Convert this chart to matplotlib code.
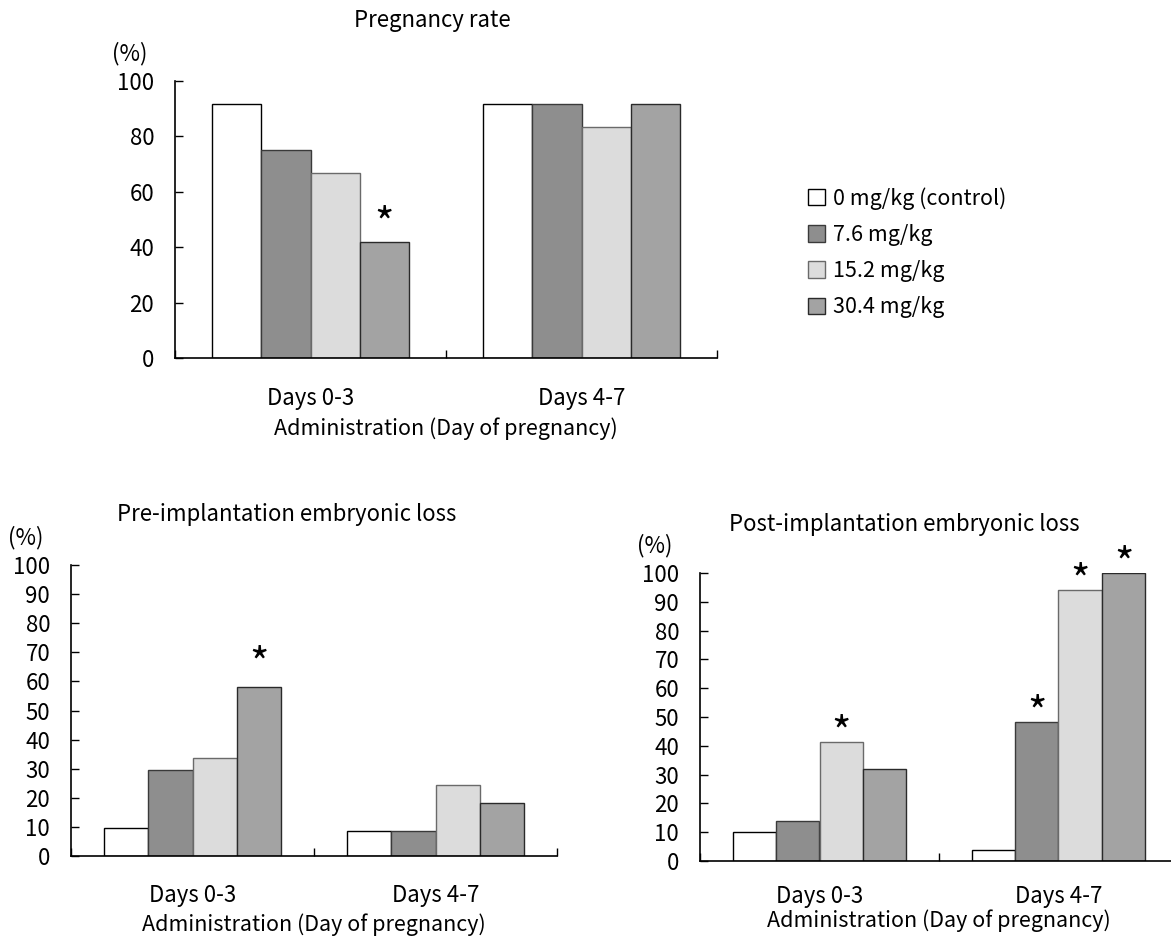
import matplotlib
matplotlib.use('Agg')
import matplotlib.pyplot as plt
from matplotlib.patches import Patch
import numpy as np

plt.rcParams['font.family'] = ['Noto Sans CJK JP', 'DejaVu Sans']

periods = ['Days 0-3', 'Days 4-7']
doses = ['0 mg/kg (control)', '7.6 mg/kg', '15.2 mg/kg', '30.4 mg/kg']

# one row per dose: [Days 0-3, Days 4-7]
pregnancy_rate = [[91.7, 91.7], [75.0, 91.7], [66.7, 83.3], [41.7, 91.7]]
pre_loss = [[9.5, 8.7], [29.6, 8.7], [33.8, 24.4], [58.1, 18.1]]
post_loss = [[10.0, 3.9], [13.9, 48.1], [41.2, 94.1], [32.1, 100.0]]

# significant differences as (dose index, period index)
pregnancy_stars = [(3, 0)]
pre_stars = [(3, 0)]
post_stars = [(2, 0), (1, 1), (2, 1), (3, 1)]

faces = ['white', '#8e8e8e', '#dcdcdc', '#a3a3a3']
edges = ['black', '#3a3a3a', '#6a6a6a', '#2a2a2a']

W, H = 1171, 939
fig = plt.figure(figsize=(W / 100, H / 100), dpi=100)


def px_axes(left, top, right, bottom):
    return fig.add_axes([left / W, 1 - bottom / H, (right - left) / W, (bottom - top) / H])


def draw_panel(ax, values, stars, title, title_x, title_gap, yticks, star_gap,
               tick_pad=21, label_pad=5.5):
    x = np.arange(len(periods)) + 0.5
    w = 0.182
    for i, vals in enumerate(values):
        ax.bar(x + (i - 1.5) * w, vals, w, color=faces[i], edgecolor=edges[i], linewidth=1)
    for i, j in stars:
        ax.annotate('*', (x[j] + (i - 1.5) * w, values[i][j]), xytext=(0, star_gap),
                    textcoords='offset pixels', ha='center', va='center', fontsize=30)
    ax.set_xlim(0, 2)
    ax.set_ylim(0, 100)
    ax.set_yticks(yticks)
    ax.set_xticks([0, 1, 2])
    ax.set_xticklabels([])
    ax.set_xticks(x, periods, minor=True)
    ax.tick_params(axis='x', which='major', direction='in', length=6, width=1)
    ax.tick_params(axis='x', which='minor', length=0, pad=tick_pad, labelsize=16)
    ax.tick_params(axis='y', direction='in', length=6, width=1, pad=15, labelsize=16)
    ax.set_xlabel('Administration (Day of pregnancy)', fontsize=15.5, labelpad=label_pad)
    for s in ['top', 'right']:
        ax.spines[s].set_visible(False)
    for s in ['left', 'bottom']:
        ax.spines[s].set_linewidth(1.2)
    ax.annotate(title, (title_x, 1), xycoords='axes fraction', xytext=(0, title_gap),
                textcoords='offset pixels', ha='center', va='center', fontsize=16)
    ax.annotate('(%)', (0, 1), xycoords='axes fraction', xytext=(-45, 27),
                textcoords='offset pixels', ha='center', va='center', fontsize=16)


ax1 = px_axes(175, 81, 717, 358)
draw_panel(ax1, pregnancy_rate, pregnancy_stars, 'Pregnancy rate', 0.474, 60,
           np.arange(0, 101, 20), 17)

ax2 = px_axes(71, 565, 557, 856)
draw_panel(ax2, pre_loss, pre_stars, 'Pre-implantation embryonic loss', 0.444, 51,
           np.arange(0, 101, 10), 22, tick_pad=20, label_pad=5)

ax3 = px_axes(700, 573, 1178, 861)
draw_panel(ax3, post_loss, post_stars, 'Post-implantation embryonic loss', 0.428, 48,
           np.arange(0, 101, 10), 8, tick_pad=17, label_pad=1.5)

handles = [Patch(facecolor=faces[i], edgecolor=edges[i], linewidth=1) for i in range(len(doses))]
fig.legend(handles, doses, loc='upper left', bbox_to_anchor=(808 / W, 1 - 187 / H),
           frameon=False, fontsize=15.5, handlelength=0.8, handleheight=0.8,
           handletextpad=0.35, labelspacing=0.66, borderpad=0, borderaxespad=0)

fig.savefig('out.png', dpi=100)
